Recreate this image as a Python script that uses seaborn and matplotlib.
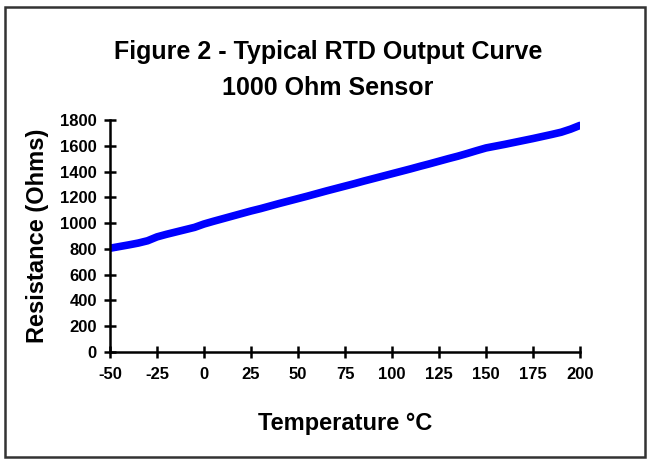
import matplotlib
matplotlib.use("Agg")
import matplotlib.pyplot as plt
import seaborn as sns
import pandas as pd
from matplotlib.patches import Rectangle

# temperature (°C) and resistance (ohms)
temperature = [-50, -45, -40, -35, -30, -25, -20, -15, -10, -5,
               0, 5, 10, 15, 20, 25, 30, 35, 40, 45,
               50, 55, 60, 65, 70, 75, 80, 85, 90, 95,
               100, 105, 110, 115, 120, 125, 130, 135, 140, 145,
               150, 155, 160, 165, 170, 175, 180, 185, 190, 195, 200]
resistance = [805, 818, 831, 845, 863, 893, 913, 931, 949, 967,
              993, 1014, 1034, 1054, 1074, 1094, 1112, 1132, 1152, 1171,
              1190, 1209, 1229, 1249, 1268, 1287, 1306, 1326, 1345, 1364,
              1383, 1402, 1421, 1441, 1460, 1480, 1500, 1519, 1540, 1562,
              1583, 1597, 1611, 1626, 1641, 1656, 1672, 1688, 1705, 1729, 1758]

x_ticks = [-50, -25, 0, 25, 50, 75, 100, 125, 150, 175, 200]
y_ticks = [0, 200, 400, 600, 800, 1000, 1200, 1400, 1600, 1800]

df = pd.DataFrame({"temp": temperature, "ohms": resistance})

sns.set_style("white")
plt.rcParams['font.family'] = ['Liberation Sans', 'DejaVu Sans']
plt.rcParams['text.color'] = 'black'

fig = plt.figure(figsize=(6.52, 4.65), dpi=100)
ax = fig.add_axes([0.1687, 0.243, 0.7209, 0.499])

sns.lineplot(data=df, x="temp", y="ohms", ax=ax, color="#0000ff",
             linewidth=5.5, solid_capstyle="round")

ax.set_xlim(-50, 200)
ax.set_ylim(0, 1800)
ax.set_xticks(x_ticks)
ax.set_yticks(y_ticks)
ax.set_xticklabels([str(t) for t in x_ticks], fontsize=12, fontweight="bold")
ax.set_yticklabels([str(t) for t in y_ticks], fontsize=12, fontweight="bold")
ax.tick_params(axis="both", direction="inout", length=9, width=1.8,
               color="black", labelcolor="black", bottom=True, left=True)
ax.tick_params(axis="x", pad=6)
ax.tick_params(axis="y", pad=5)

sns.despine(ax=ax)
for side in ["left", "bottom"]:
    ax.spines[side].set_color("black")
    ax.spines[side].set_linewidth(1.8)

ax.set_xlabel("Temperature °C", fontsize=17, fontweight="bold", labelpad=22,
              color="black")
ax.set_ylabel("Resistance (Ohms)", fontsize=17, fontweight="bold", labelpad=8,
              color="black")

fig.text(0.503, 0.888, "Figure 2 - Typical RTD Output Curve", ha="center", va="center",
         fontsize=18, fontweight="bold", color="black")
fig.text(0.503, 0.811, "1000 Ohm Sensor", ha="center", va="center",
         fontsize=18, fontweight="bold", color="black")

fig.patches.append(Rectangle((0.008, 0.018), 0.982, 0.966, transform=fig.transFigure,
                             fill=False, edgecolor="#333333", linewidth=1.8))

fig.savefig("out.png", dpi=100)
